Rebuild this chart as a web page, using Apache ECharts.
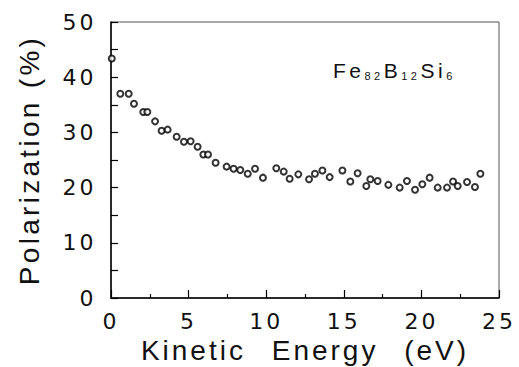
<!DOCTYPE html>
<html><head><meta charset="utf-8">
<script src="https://cdn.jsdelivr.net/npm/echarts@6/dist/echarts.min.js"></script>
<style>
html,body{margin:0;padding:0;background:#fff;}
#chart{width:519px;height:367px;}
#chart text[style*="DejaVu"]{letter-spacing:3px;}
#chart text[style*="Liberation"]{letter-spacing:3.3px;}
#chart text[style*="Helvetica"]{letter-spacing:3px;word-spacing:15px;}
#chart text[style*="Arial"]{letter-spacing:3.5px;}
</style></head>
<body><div id="chart"></div>
<script>
// Data
const energy = [0.05,0.6,1.14,1.48,2.08,2.34,2.84,3.26,3.65,4.23,4.70,5.13,5.58,5.95,6.25,6.74,7.45,7.90,8.33,8.81,9.28,9.79,10.65,11.13,11.51,12.07,12.76,13.14,13.62,14.09,14.91,15.42,15.89,16.45,16.71,17.18,17.87,18.60,19.07,19.59,20.06,20.53,21.05,21.65,22.04,22.34,22.94,23.45,23.80];
const polarization = [43.4,37.0,37.0,35.2,33.7,33.7,32.0,30.3,30.5,29.2,28.3,28.4,27.4,26.0,26.0,24.5,23.8,23.4,23.2,22.5,23.4,21.8,23.5,22.9,21.6,22.4,21.5,22.5,23.1,21.9,23.1,21.1,22.6,20.3,21.5,21.2,20.5,20.0,21.2,19.6,20.6,21.8,20.0,20.0,21.1,20.3,21.0,20.1,22.5];
const xTickLabels = [0,5,10,15,20,25];
const yTickLabels = [0,10,20,30,40,50];
const xTitle = 'Kinetic Energy (eV)';
const yTitle = 'Polarization (%)';

const points = energy.map((e, i) => [e, polarization[i]]);

const chart = echarts.init(document.getElementById('chart'), null, {renderer: 'svg'});
chart.setOption({
  animation: false,
  backgroundColor: '#fff',
  grid: {left: 111, right: 20, top: 22, bottom: 69, show: true, borderColor: '#555', borderWidth: 1,
         containLabel: false, outerBoundsMode: 'none'},
  xAxis: {
    type: 'value', min: 0, max: 25, interval: 5,
    name: xTitle, nameLocation: 'middle', nameGap: 38.6, nameMoveOverlap: false,
    nameTextStyle: {fontFamily: "'Liberation Sans', Helvetica", fontSize: 28, color: '#111'},
    axisLine: {show: true, lineStyle: {color: '#000', width: 1.5}},
    axisTick: {show: true, inside: true, length: 8, lineStyle: {color: '#000', width: 1.2}},
    minorTick: {show: true, splitNumber: 2, length: 4, lineStyle: {color: '#000', width: 1.2}},
    splitLine: {show: false},
    axisLabel: {margin: 12, fontFamily: 'DejaVu Sans', fontSize: 22, color: '#111',
      formatter: v => xTickLabels.includes(v) ? String(v) : ''}
  },
  yAxis: {
    type: 'value', min: 0, max: 50, interval: 5,
    name: yTitle, nameLocation: 'middle', nameGap: 68, nameMoveOverlap: false,
    nameTextStyle: {fontFamily: 'Liberation Sans', fontSize: 28, color: '#111'},
    axisLine: {show: true, lineStyle: {color: '#000', width: 1.5}},
    axisTick: {show: true, inside: true, length: 7, lineStyle: {color: '#000', width: 1.2}},
    splitLine: {show: false},
    axisLabel: {margin: 14.5, fontFamily: 'DejaVu Sans', fontSize: 22, color: '#111',
      formatter: v => yTickLabels.includes(v) ? String(v) : ''}
  },
  graphic: [{
    type: 'text', left: 333, top: 60, silent: true,
    style: {
      text: '{m2|Fe}{s2|82}{m1|B}{s2|12}{m2|Si}{s1|6}',
      fill: '#111',
      rich: {
        m2: {fontFamily: "'Liberation Sans', Arial", fontSize: 21, fill: '#111', padding: [0, 7, 0, 0]},
        m1: {fontFamily: "'Liberation Sans', Arial", fontSize: 21, fill: '#111', padding: [0, 3.5, 0, 0]},
        s2: {fontFamily: "'Liberation Sans', Arial", fontSize: 11, fill: '#111', verticalAlign: 'bottom', padding: [0, 7, 0, 0]},
        s1: {fontFamily: "'Liberation Sans', Arial", fontSize: 11, fill: '#111', verticalAlign: 'bottom', padding: [0, 3.5, 0, 0]}
      }
    }
  }],
  series: [{
    type: 'scatter',
    data: points,
    symbol: 'emptyCircle',
    symbolSize: 6,
    itemStyle: {color: '#000', borderColor: '#000', borderWidth: 1}
  }]
});
</script>
</body></html>
